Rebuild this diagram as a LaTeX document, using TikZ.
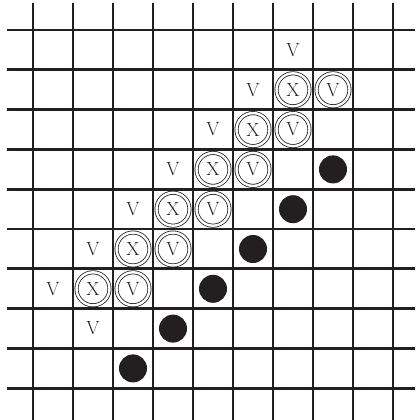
\documentclass[tikz,border=0pt]{standalone}
\usepackage{tikz}
\definecolor{ink}{HTML}{231F20}

\begin{document}
\begin{tikzpicture}[
  x=1pt,y=-1pt,
  gridline/.style={line width=2.8pt,draw=ink},
  mark label/.style={inner sep=0pt,text=ink,font=\fontsize{19}{19}\selectfont},
  ringed/.style={mark label,circle,draw=ink,line width=0.8pt,double,double distance=2.4pt,minimum size=33pt},
  stone/.style={circle,fill=ink,inner sep=0pt,minimum size=28pt}
]
\useasboundingbox (0,0) rectangle (415,420);
% board
\foreach \i in {0,...,9}
  \draw[gridline] ({33+40*\i},3) -- ({33+40*\i},420);
\foreach \j in {0,...,9}
  \draw[gridline] (7,{30+39.8*\j}) -- (415,{30+39.8*\j});
% diagonal of marks
\foreach \k in {0,...,5} {
  \node[mark label] (v-\k) at ({53+40*(5-\k)},{50+39.8*(1+\k)}) {V};
  \node[ringed] (x-\k) at ({53+40*(6-\k)},{50+39.8*(1+\k)}) {X};
  \node[ringed] (w-\k) at ({53+40*(7-\k)},{50+39.8*(1+\k)}) {V};
  \node[stone] (s-\k) at ({53+40*(7-\k)},{50+39.8*(3+\k)}) {};
}
\node[mark label] (v-top) at ({53+40*6},50) {V};
\node[mark label] (v-low) at ({53+40*1},{50+39.8*7}) {V};
\end{tikzpicture}
\end{document}
